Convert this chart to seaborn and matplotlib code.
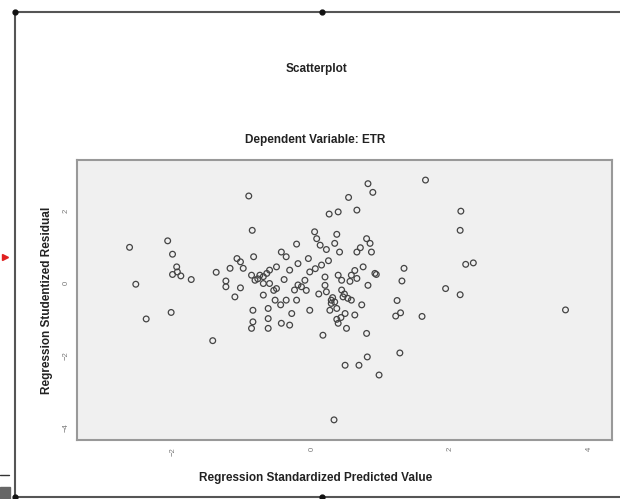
import numpy as np
import pandas as pd
import matplotlib
matplotlib.use("Agg")
from matplotlib import pyplot as plt
from matplotlib.lines import Line2D
import seaborn as sns

# standardized predicted value (x) and studentized residual (y)
pred_x = [-2.63, -2.54, -2.39, -2.08, -2.01, -1.95, -1.94, -2.01, -1.89, -1.74,
          -2.03, -1.43, -1.38, -0.91, -0.86, -1.08, -1.03, -1.18, -0.99, -1.24,
          -1.24, -1.03, -1.11, -0.84, -0.87, -0.82, -0.75, -0.65, -0.61, -0.51,
          -0.44, -0.37, -0.70, -0.61, -0.51, -0.70, -0.53, -0.37, -0.85, -0.63,
          -0.63, -0.85, -0.87, -0.63, -0.44, -0.32, 0.04, 0.07, 0.12, 0.36,
          0.33, 0.21, 0.40, -0.22, 0.79, 0.84, 0.86, 0.65, 0.74, 0.91,
          -0.20, -0.32, -0.05, -0.03, 0.14, 0.19, 0.38, 0.43, 0.57, 0.65,
          0.81, -0.10, -0.15, -0.25, 0.19, 0.21, 0.43, 0.45, 0.57, 0.28,
          -0.22, -0.03, 0.26, 0.36, 0.48, 0.62, -0.29, 0.38, 0.50, 0.16,
          0.79, 0.81, 0.88, 0.53, 0.65, 0.25, 0.38, 0.28, 0.48, 0.68,
          0.80, 0.97, 0.32, 1.64, 2.15, 2.14, 2.22, 2.33, 1.33, 1.30,
          1.93, 2.14, 1.23, 1.28, 1.21, 1.59, 1.27, 3.66, 0.93,
          0.30, 0.33, 0.47, 0.52, -0.20, -0.08, 0.55, -0.78, -0.70, 0.42,
          0.36, 0.05, -0.40, 0.62, 0.70, -0.55, 0.24, 0.10, -0.45, 0.72]
resid_y = [0.99, -0.03, -0.99, 1.17, 0.80, 0.45, 0.31, 0.24, 0.20, 0.10,
           -0.81, -1.59, 0.30, 2.41, 1.46, 0.68, 0.59, 0.41, 0.41, 0.06,
           -0.10, -0.13, -0.38, 0.73, 0.22, 0.08, 0.22, 0.27, 0.36, 0.45,
           0.86, 0.73, -0.01, -0.01, -0.15, -0.33, -0.47, -0.47, -0.75, -0.70,
           -0.98, -1.07, -1.25, -1.25, -1.11, -1.16, 1.42, 1.23, 1.05, 1.35,
           1.10, 0.93, 0.86, 1.08, 1.23, 1.10, 0.86, 0.86, 0.45, 0.27,
           0.54, 0.36, 0.68, 0.31, 0.50, 0.17, 0.22, 0.08, 0.22, 0.13,
           -0.06, 0.08, -0.10, -0.19, -0.06, -0.24, -0.19, -0.38, -0.47, -0.47,
           -0.47, -0.75, -0.75, -0.70, -0.84, -0.88, -0.84, -1.11, -1.25, -1.44,
           -1.39, 2.75, 2.51, 2.37, 2.02, 1.91, 1.97, -0.56, -2.27, -2.27,
           -2.04, -2.54, -3.78, 2.85, 1.99, 1.46, 0.52, 0.56, 0.41, 0.06,
           -0.15, -0.32, -0.48, -0.82, -0.91, -0.92, -1.93, -0.74, 0.24,
           -0.40, -0.52, -0.30, -0.42, -0.05, -0.20, 0.05, 0.12, 0.18, -0.95,
           -1.00, 0.40, 0.10, 0.35, 0.98, -0.20, 0.62, -0.30, -0.60, -0.60]

x_ticks = [-2, 0, 2, 4]
y_ticks = [-4, -2, 0, 2]

df = pd.DataFrame({"pred": pred_x, "resid": resid_y})

sns.set_style("white")
plt.rcParams["font.family"] = ["Liberation Sans", "DejaVu Sans"]

fig = plt.figure(figsize=(6.2, 4.99), dpi=100)
ax = fig.add_axes([0.124, 0.118, 0.863, 0.561])
ax.set_facecolor("#f0f0f0")

sns.scatterplot(data=df, x="pred", y="resid", ax=ax, marker="o", s=17,
                facecolor="none", edgecolor="#444444", linewidth=0.9)

ax.set_xlim(-3.39, 4.33)
ax.set_ylim(-4.34, 3.40)
ax.set_xticks(x_ticks)
ax.set_yticks(y_ticks)
ax.tick_params(axis="both", direction="out", length=3, width=0.8, color="#888888",
               labelsize=5.5, labelcolor="#777777", pad=2)
plt.setp(ax.get_yticklabels(), rotation=90, va="center")
plt.setp(ax.get_xticklabels(), rotation=90, ha="center")
for s in ax.spines.values():
    s.set_color("#999999")
    s.set_linewidth(1.5)

ax.set_xlabel("Regression Standardized Predicted Value", fontsize=8.5,
              fontweight="bold", color="#222222")
ax.xaxis.set_label_coords(0.447, -0.114)
ax.set_ylabel("Regression Studentized Residual", fontsize=8.5,
              fontweight="bold", color="#222222", labelpad=7)

fig.text(0.51, 0.862, "Scatterplot", ha="center", va="center",
         fontsize=8.5, fontweight="bold", color="#222222")
fig.text(0.508, 0.719, "Dependent Variable: ETR", ha="center", va="center",
         fontsize=8.5, fontweight="bold", color="#222222")

# chart-editor frame around the chart
fx0, fy0 = 15 / 620, 1 - 12 / 499
fy1 = 1 - 497 / 499
fig.add_artist(Line2D([fx0, 1], [fy0, fy0], color="#555555", lw=1.5))
fig.add_artist(Line2D([fx0, fx0], [fy0, 0], color="#555555", lw=1.5))
fig.add_artist(Line2D([fx0, 1], [fy1, fy1], color="#555555", lw=1.5))
fig.add_artist(Line2D([fx0, 322 / 620], [fy0, fy0], ls="none", marker="o",
                      ms=3.5, color="#111111"))
fig.add_artist(Line2D([fx0, 322 / 620], [fy1, fy1], ls="none", marker="o",
                      ms=3.5, color="#111111"))
fig.add_artist(Line2D([0.008], [1 - 257 / 499], ls="none", marker=">",
                      ms=5, color="#e02020"))
fig.add_artist(Line2D([0, 9 / 620], [1 - 475 / 499, 1 - 475 / 499],
                      color="#333333", lw=1))
fig.add_artist(plt.Rectangle((0, 0), 10 / 620, 12 / 499, color="#666666",
                             transform=fig.transFigure))

plt.savefig("out.png", dpi=100)
